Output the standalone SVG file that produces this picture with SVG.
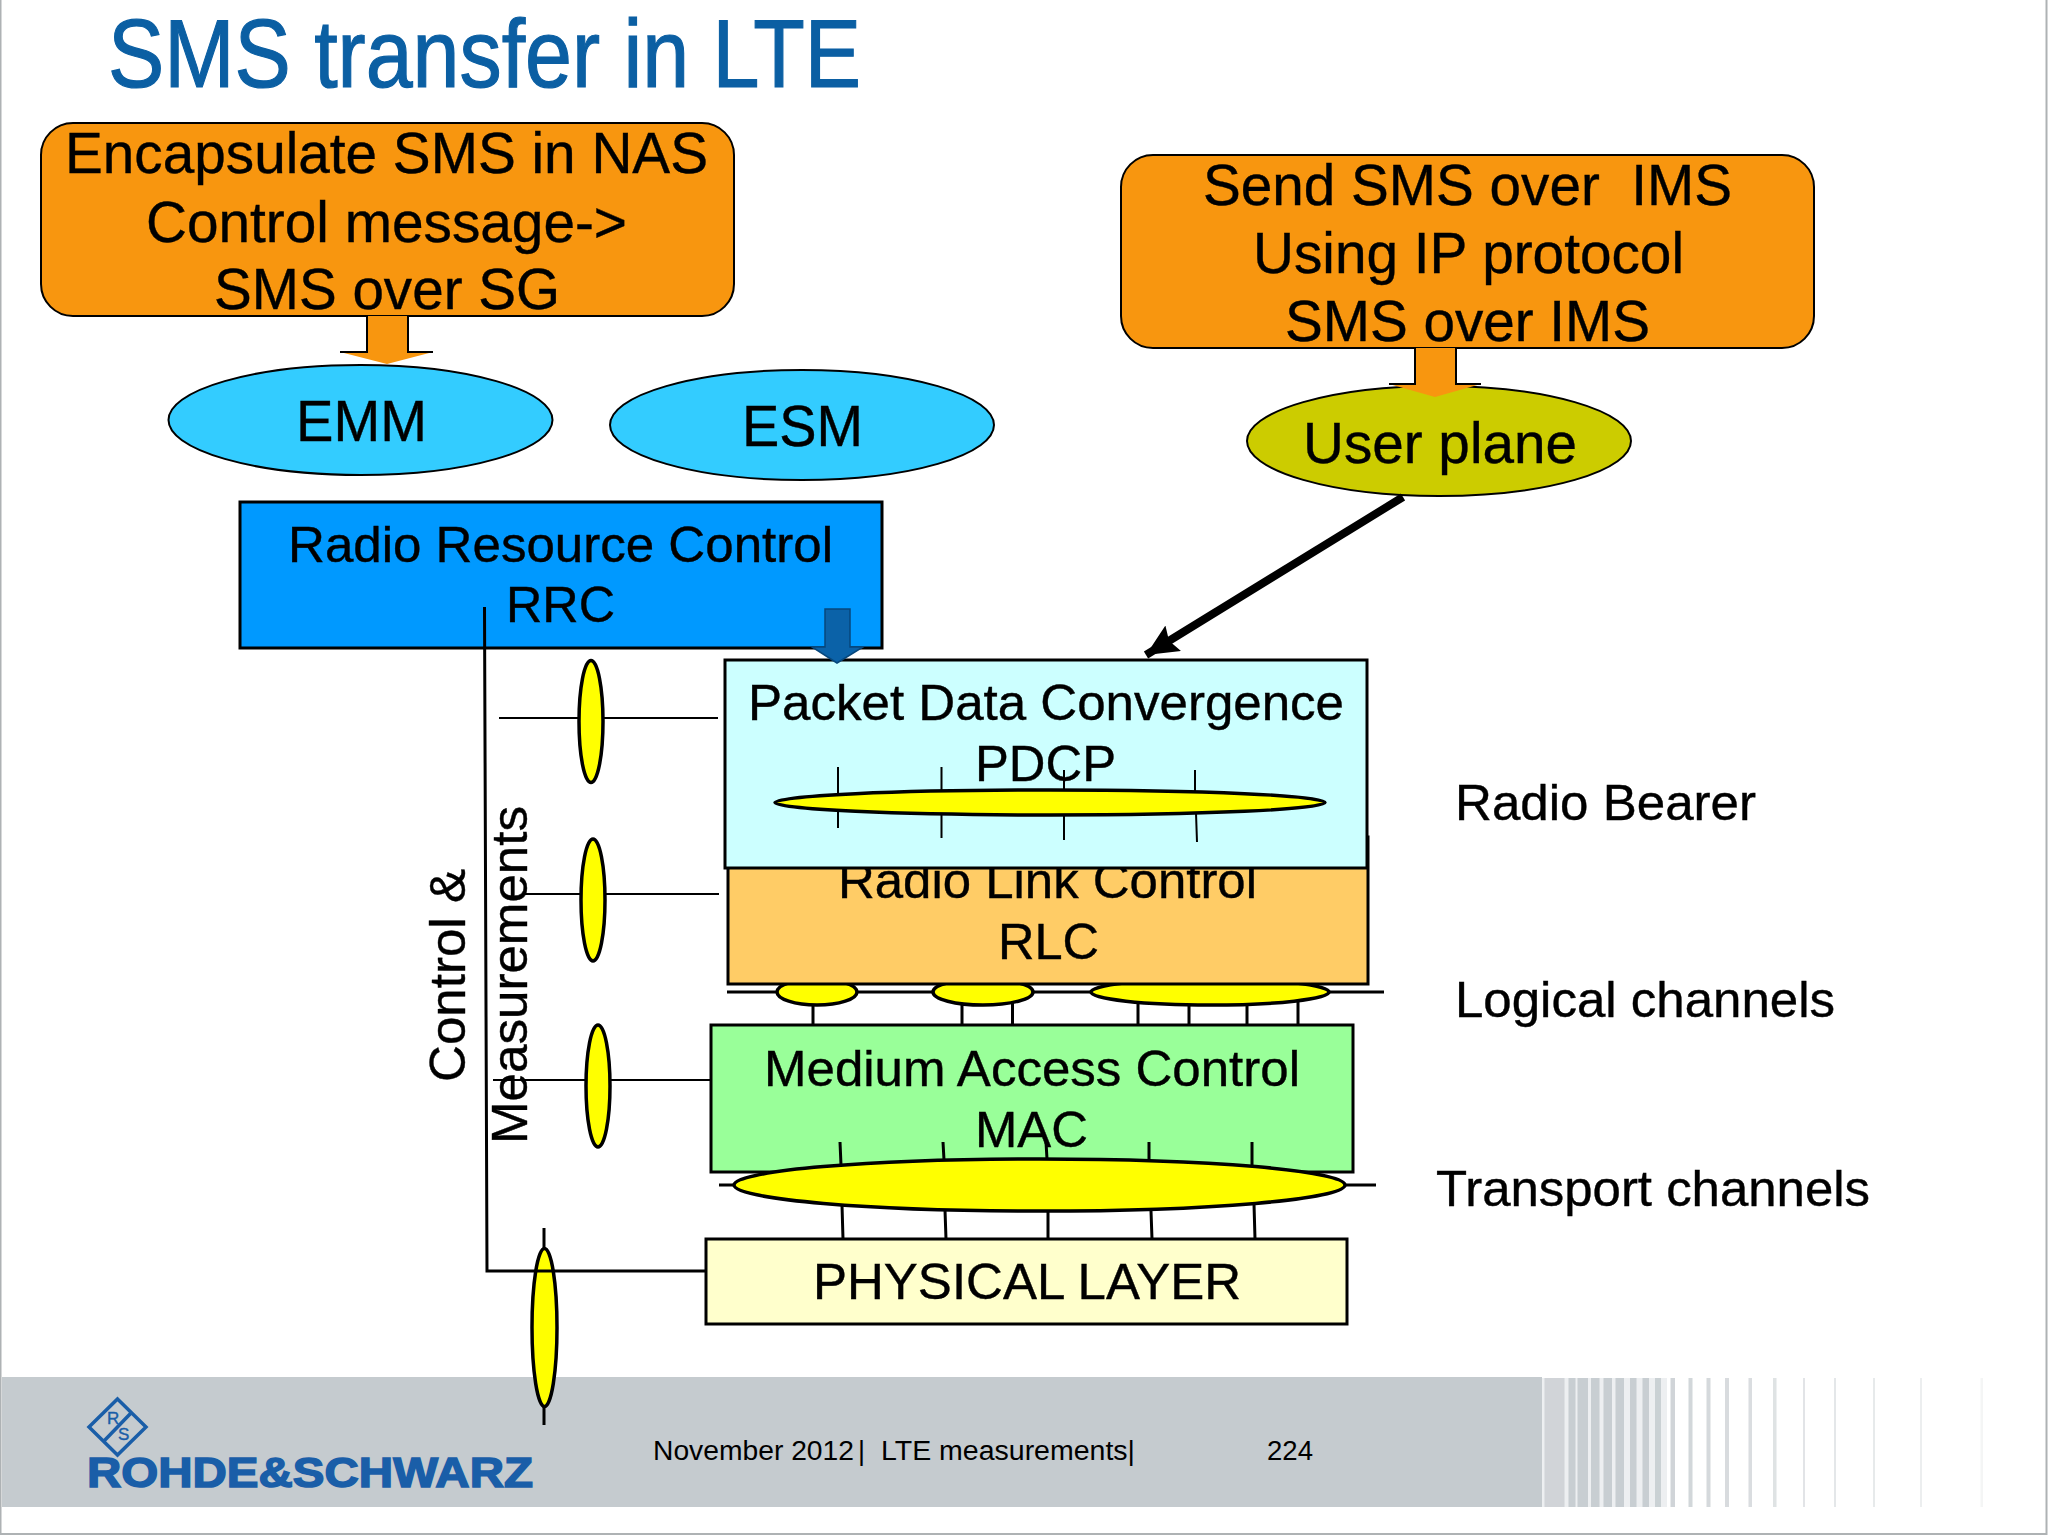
<svg xmlns="http://www.w3.org/2000/svg" width="2048" height="1536" viewBox="0 0 2048 1536">
<style>
text{font-family:"Liberation Sans",Arial,sans-serif;fill:#000;white-space:pre;stroke:#000;stroke-width:.4}
.t58{font-size:58px}.t50{font-size:50px}.foot{font-size:27px;stroke-width:0}
.box{stroke:#000;stroke-width:3}
.org{fill:#f8960f;stroke:#000;stroke-width:2}
.oval{stroke:#000;stroke-width:2}
.yel{fill:#ffff00;stroke:#000;stroke-width:3.5}
.ln{stroke:#000;stroke-width:2;fill:none}
.ln3{stroke:#000;stroke-width:3;fill:none}
.bar{fill:#c5cbcf}
.logo{fill:#1a5ea8;stroke:#1a5ea8}
</style>
<defs>
<marker id="head" markerUnits="userSpaceOnUse" markerWidth="36" markerHeight="32" refX="32" refY="15" orient="auto"><path d="M0 0L32 15L0 30L5 15Z" fill="#000"/></marker>
</defs>
<g id="background">
<rect x="0.5" y="-2" width="2046" height="1536" fill="#fff" stroke="#aeb2b4" stroke-width="2"/>
<rect class="bar" x="2" y="1377" width="1540" height="130"/>
<rect class="bar" x="1542" y="1378" width="125" height="129" opacity=".3"/>
<g opacity=".9">
<rect class="bar" x="1544.5" y="1378" width="20" height="129" opacity=".8"/>
<rect class="bar" x="1568.5" y="1378" width="7" height="129"/>
<rect class="bar" x="1577.5" y="1378" width="10.500" height="129"/>
<rect class="bar" x="1591" y="1378" width="8.500" height="129"/>
<rect class="bar" x="1603.500" y="1378" width="8.500" height="129"/>
<rect class="bar" x="1615.500" y="1378" width="8.500" height="129"/>
<rect class="bar" x="1630" y="1378" width="6.500" height="129"/>
<rect class="bar" x="1642.500" y="1378" width="6.500" height="129"/>
<rect class="bar" x="1655" y="1378" width="6" height="129" opacity=".95"/>
<rect class="bar" x="1670.500" y="1378" width="4.500" height="129" opacity=".9"/>
<rect class="bar" x="1688.500" y="1378" width="4" height="129" opacity=".85"/>
<rect class="bar" x="1706.500" y="1378" width="4" height="129" opacity=".8"/>
<rect class="bar" x="1725" y="1378" width="4" height="129" opacity=".75"/>
<rect class="bar" x="1748.500" y="1378" width="3.500" height="129" opacity=".7"/>
<rect class="bar" x="1773" y="1378" width="3.500" height="129" opacity=".6"/>
<rect class="bar" x="1803" y="1378" width="2" height="129" opacity=".55"/>
<rect class="bar" x="1834" y="1378" width="2" height="129" opacity=".5"/>
<rect class="bar" x="1873" y="1378" width="2" height="129" opacity=".45"/>
<rect class="bar" x="1920" y="1378" width="2" height="129" opacity=".35"/>
<rect class="bar" x="1980.500" y="1378" width="2.500" height="129" opacity=".2"/>
</g>
</g>
<g id="title"><text x="108" y="87" font-size="96" style="fill:#0b5fa3;stroke:#0b5fa3;stroke-width:1.200" textLength="753" lengthAdjust="spacingAndGlyphs">SMS transfer in LTE</text></g>
<g id="logo">
<path d="M117.500 1399L146 1427L117.500 1455L89 1427Z M131 1413L104 1441" fill="none" stroke="#1a5ea8" stroke-width="3.500"/>
<text class="logo" x="107" y="1424" font-size="17">R</text>
<text class="logo" x="118" y="1440" font-size="17">S</text>
<text class="logo" x="87" y="1487" font-size="42" font-weight="bold" style="stroke-width:1.500" textLength="446" lengthAdjust="spacingAndGlyphs">ROHDE&amp;SCHWARZ</text>
</g>
<g id="footer-text">
<text class="foot" x="653" y="1460" textLength="201" lengthAdjust="spacingAndGlyphs">November 2012</text>
<text class="foot" x="858" y="1460">|</text>
<text class="foot" x="881" y="1460" textLength="254" lengthAdjust="spacingAndGlyphs">LTE measurements|</text>
<text class="foot" x="1267" y="1460" textLength="46" lengthAdjust="spacingAndGlyphs">224</text>
</g>
<g id="sms-sg">
<rect class="org" x="41" y="123" width="693" height="193" rx="32"/>
<text class="t58" x="65" y="173" textLength="643" lengthAdjust="spacingAndGlyphs">Encapsulate SMS in NAS</text>
<text class="t58" x="146" y="242" textLength="481" lengthAdjust="spacingAndGlyphs">Control message-&gt;</text>
<text class="t58" x="214" y="309" textLength="346" lengthAdjust="spacingAndGlyphs">SMS over SG</text>
</g>
<g id="sms-ims">
<rect class="org" x="1121" y="155" width="693" height="193" rx="32"/>
<text class="t58" x="1203" y="205" textLength="529" lengthAdjust="spacingAndGlyphs">Send SMS over  IMS</text>
<text class="t58" x="1253" y="273" textLength="431" lengthAdjust="spacingAndGlyphs">Using IP protocol</text>
<text class="t58" x="1285" y="341" textLength="365" lengthAdjust="spacingAndGlyphs">SMS over IMS</text>
</g>
<g id="emm"><ellipse class="oval" cx="360.500" cy="420" rx="192" ry="55" fill="#33ccff"/><text class="t58" x="296" y="441" textLength="131" lengthAdjust="spacingAndGlyphs">EMM</text></g>
<g id="esm"><ellipse class="oval" cx="802" cy="425" rx="192" ry="55" fill="#33ccff"/><text class="t58" x="742" y="446" textLength="121" lengthAdjust="spacingAndGlyphs">ESM</text></g>
<g id="user-plane"><ellipse class="oval" cx="1439" cy="441" rx="192" ry="55" fill="#cccc00"/><text class="t58" x="1303" y="463" textLength="274" lengthAdjust="spacingAndGlyphs">User plane</text></g>
<g id="rrc">
<rect class="box" x="240" y="502" width="642" height="146" fill="#0099ff"/>
<text class="t50" x="288" y="562" textLength="545" lengthAdjust="spacingAndGlyphs">Radio Resource Control</text>
<text class="t50" x="506" y="622" textLength="109" lengthAdjust="spacingAndGlyphs">RRC</text>
</g>
<g id="logical-channels">
<ellipse class="yel" cx="817" cy="992" rx="40" ry="13"/>
<ellipse class="yel" cx="983" cy="992" rx="50" ry="13"/>
<ellipse class="yel" cx="1210" cy="992" rx="119" ry="13"/>
</g>
<g id="rlc">
<rect class="box" x="728" y="837" width="640" height="147" fill="#ffcc66"/>
<text class="t50" x="838" y="898" textLength="419" lengthAdjust="spacingAndGlyphs">Radio Link Control</text>
<text class="t50" x="998" y="959" textLength="101" lengthAdjust="spacingAndGlyphs">RLC</text>
</g>
<g id="pdcp">
<rect class="box" x="725" y="660" width="642" height="208" fill="#ccffff"/>
<text class="t50" x="748" y="720" textLength="596" lengthAdjust="spacingAndGlyphs">Packet Data Convergence</text>
<text class="t50" x="975" y="781" textLength="141" lengthAdjust="spacingAndGlyphs">PDCP</text>
<ellipse class="yel" cx="1050" cy="802.500" rx="275" ry="12.500"/>
</g>
<g id="mac">
<rect class="box" x="711" y="1025" width="642" height="147" fill="#99ff99"/>
<text class="t50" x="764" y="1086" textLength="536" lengthAdjust="spacingAndGlyphs">Medium Access Control</text>
<text class="t50" x="975" y="1147" textLength="113" lengthAdjust="spacingAndGlyphs">MAC</text>
</g>
<g id="transport-oval"><ellipse class="yel" cx="1039.500" cy="1185" rx="305.500" ry="26"/></g>
<g id="phy">
<rect class="box" x="706" y="1239" width="641" height="85" fill="#ffffcc"/>
<text class="t50" x="813" y="1299" textLength="428" lengthAdjust="spacingAndGlyphs">PHYSICAL LAYER</text>
</g>
<g id="control-ovals">
<ellipse class="yel" cx="591" cy="721.500" rx="12" ry="61"/>
<ellipse class="yel" cx="593" cy="900" rx="12" ry="61"/>
<ellipse class="yel" cx="598" cy="1086" rx="12" ry="61"/>
<ellipse class="yel" cx="544.500" cy="1327.500" rx="12.500" ry="79"/>
</g>
<g id="labels">
<text class="t50" transform="translate(465 1082) rotate(-90)" textLength="213" lengthAdjust="spacingAndGlyphs">Control &amp;</text>
<text class="t50" transform="translate(527 1144) rotate(-90)" textLength="338" lengthAdjust="spacingAndGlyphs">Measurements</text>
<text class="t50" x="1455" y="820" textLength="301" lengthAdjust="spacingAndGlyphs">Radio Bearer</text>
<text class="t50" x="1455" y="1017" textLength="380" lengthAdjust="spacingAndGlyphs">Logical channels</text>
<text class="t50" x="1436" y="1206" textLength="434" lengthAdjust="spacingAndGlyphs">Transport channels</text>
</g>
<g id="connectors">
<g class="block">
<path d="M367 316V352H340L387 364L433 352H408V316Z" fill="#f8960f"/>
<path class="ln" d="M367 316V352H340M433 352H408V316"/>
<path d="M1415 348V384H1389L1435 397L1481 384H1456V348Z" fill="#f8960f"/>
<path class="ln" d="M1415 348V384H1389M1481 384H1456V348"/>
<path d="M825 609H850V647H863L837 663L812 647H825Z" fill="#0b62a8" stroke="#07477c" stroke-width="1.500"/>
</g>
<line x1="1403" y1="497" x2="1146" y2="655" stroke="#000" stroke-width="8" marker-end="url(#head)"/>
<path class="ln3" d="M484.500 607L487 1271H705"/>
<path class="ln" d="M499 718H579M603 718H718M523 894H581M605 894H719M493 1080H586M610 1080H710"/>
<path class="ln3" d="M544 1228V1248M544 1407V1425"/>
<path class="ln" d="M838 767V794M838 811V828M941.500 767V791M941.500 814V838M1064 770V790M1064 815V840M1195 770V792M1196 813L1197 842"/>
<path class="ln3" d="M727 992H777M857 992H933M1033 992H1091M1329 992H1384M719 1185H734M1345 1185H1376"/>
<path class="ln3" d="M813 1005V1025M962 1004V1025M1012.500 1003V1025M1138 1002V1025M1189 1005V1025M1247 1004V1025M1298 1001V1025"/>
<path class="ln3" d="M840 1142L841 1165M943 1142L944 1160M1046 1142L1047 1159M1149 1142V1161M1252 1142V1166"/>
<path class="ln3" d="M842 1205L843 1239M945 1210L946 1239M1048 1211V1239M1151 1211L1152 1239M1254 1204L1255 1239"/>
</g>
</svg>
